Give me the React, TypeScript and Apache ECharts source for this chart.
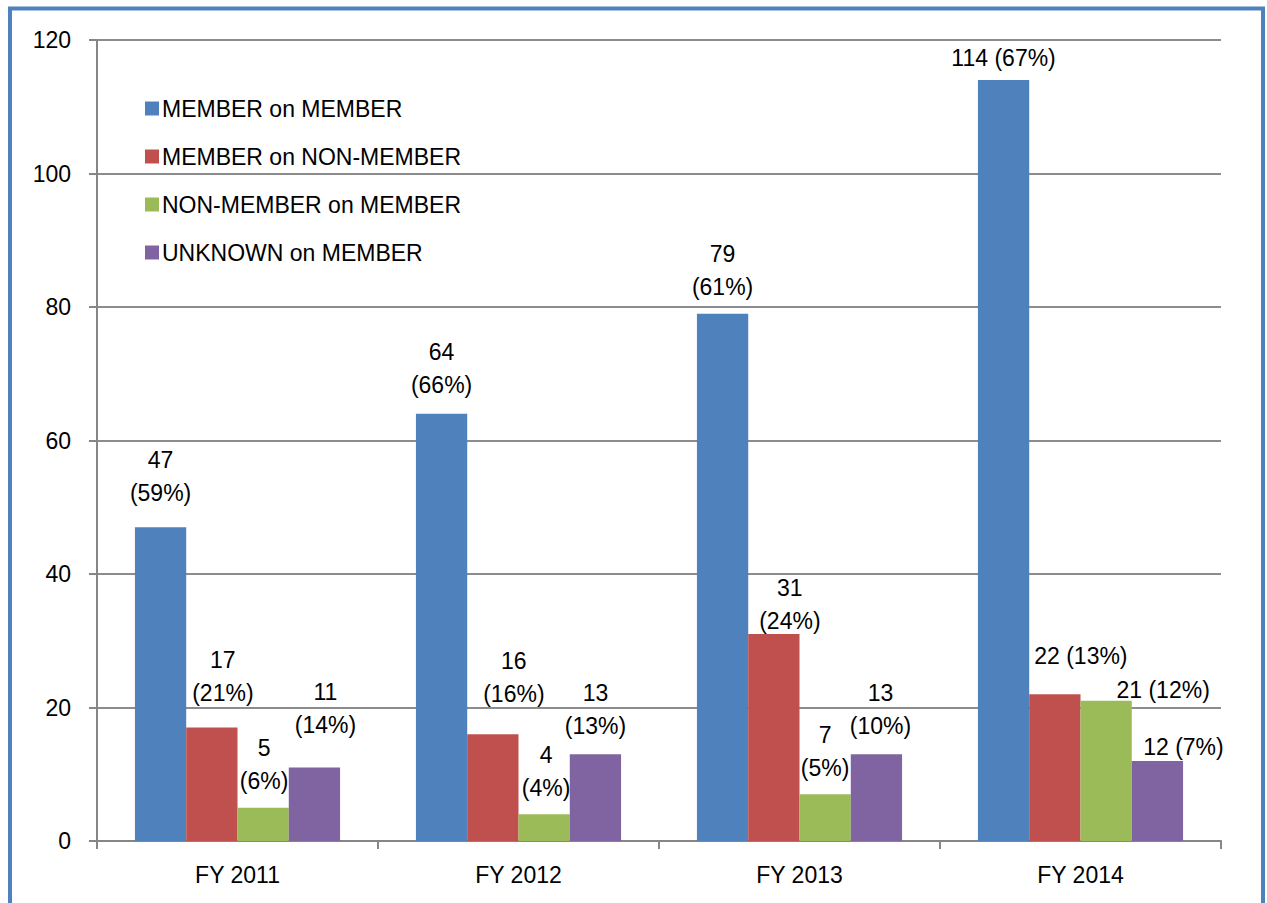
import React, { useEffect, useRef } from "react";
import * as echarts from "echarts";

const categories = ["FY 2011", "FY 2012", "FY 2013", "FY 2014"];
const seriesNames = [
  "MEMBER on MEMBER",
  "MEMBER on NON-MEMBER",
  "NON-MEMBER on MEMBER",
  "UNKNOWN on MEMBER",
];
const memberOnMember = [47, 64, 79, 114];
const memberOnNonMember = [17, 16, 31, 22];
const nonMemberOnMember = [5, 4, 7, 21];
const unknownOnMember = [11, 13, 13, 12];
const pctMemberOnMember = [59, 66, 61, 67];
const pctMemberOnNonMember = [21, 16, 24, 13];
const pctNonMemberOnMember = [6, 4, 5, 12];
const pctUnknownOnMember = [14, 13, 10, 7];
const yTicks = [0, 20, 40, 60, 80, 100, 120];

const colors = ["#4F81BD", "#C0504D", "#9BBB59", "#8064A2"];
// label nudges (style only), [series][category] -> [dx, dy]
const labelNudges = [
  [[0, -8], [0, -2], [0, 0], [0, 4]],
  [[11, -8], [21, -14], [16, 13], [26, -12]],
  [[1, 0], [2, 0], [0, 0], [57, 16]],
  [[11, -16], [0, -2], [4, -2], [26, 13]],
];

const FONT = "'Liberation Sans', Arial, sans-serif";

export default function App() {
  const ref = useRef<HTMLDivElement>(null);
  useEffect(() => {
    if (!ref.current) return;
    const chart = echarts.init(ref.current, null, { renderer: "svg" });
    const values = [memberOnMember, memberOnNonMember, nonMemberOnMember, unknownOnMember];
    const pcts = [pctMemberOnMember, pctMemberOnNonMember, pctNonMemberOnMember, pctUnknownOnMember];
    const series = values.map((vals, si) => ({
      name: seriesNames[si],
      type: "bar",
      barGap: "0%",
      barCategoryGap: "27%",
      itemStyle: { color: colors[si] },
      data: vals.map((v, ci) => ({
        value: v,
        label: {
          show: true,
          position: "top",
          distance: 10,
          offset: labelNudges[si][ci],
          color: "#000",
          fontFamily: FONT,
          fontSize: 23,
          lineHeight: 33,
          formatter:
            ci === 3 ? `${v} (${pcts[si][ci]}%)` : `${v}\n(${pcts[si][ci]}%)`,
        },
      })),
    }));
    chart.setOption({
      animation: false,
      backgroundColor: "#fff",
      textStyle: { fontFamily: FONT },
      grid: { left: 97, right: 46, top: 40, bottom: 62, containLabel: false },
      legend: {
        orient: "vertical",
        left: 140,
        top: 92,
        itemWidth: 14,
        itemHeight: 14,
        itemGap: 25,
        icon: "rect",
        data: seriesNames,
        textStyle: { fontSize: 23, color: "#000", fontFamily: FONT, padding: [0, 0, 0, -2] },
      },
      xAxis: {
        type: "category",
        data: categories,
        axisLine: { lineStyle: { color: "#868686", width: 2 } },
        axisTick: { show: true, length: 8, lineStyle: { color: "#868686", width: 2 } },
        axisLabel: { color: "#000", fontSize: 23, margin: 22, fontFamily: FONT },
      },
      yAxis: {
        type: "value",
        min: yTicks[0],
        max: yTicks[yTicks.length - 1],
        interval: 20,
        axisLine: { show: true, lineStyle: { color: "#868686", width: 2 } },
        axisTick: { show: true, length: 8, lineStyle: { color: "#868686", width: 2 } },
        axisLabel: { color: "#000", fontSize: 23, margin: 26, fontFamily: FONT },
        splitLine: { lineStyle: { color: "#8C8C8C", width: 2 } },
      },
      graphic: [
        {
          type: "rect",
          shape: { x: 10, y: 8.5, width: 1253, height: 1000 },
          style: { fill: "none", stroke: "#4F81BD", lineWidth: 4 },
          silent: true,
          z: 100,
        },
      ],
      series,
    });
    return () => chart.dispose();
  }, []);
  return (
    <div
      ref={ref}
      style={{ position: "fixed", left: 0, top: 0, width: 1267, height: 903 }}
    />
  );
}
